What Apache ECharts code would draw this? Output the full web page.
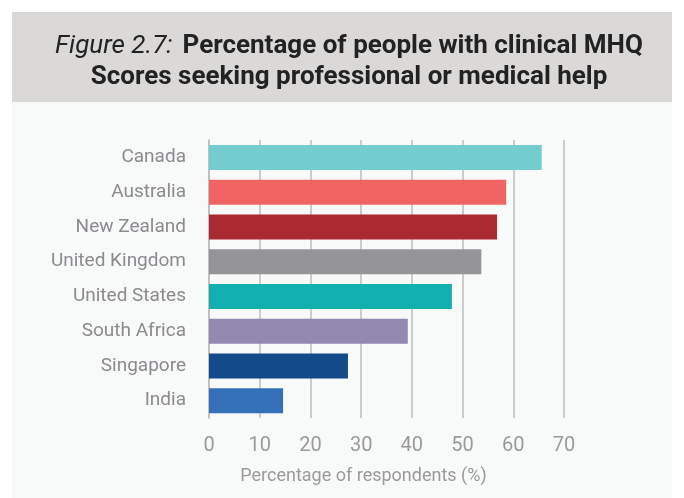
<!DOCTYPE html>
<html>
<head>
<meta charset="utf-8">
<script src="https://cdn.jsdelivr.net/npm/echarts@6/dist/echarts.min.js"></script>
<style>
  html, body { margin: 0; padding: 0; background: #fff; }
  #chart { width: 684px; height: 498px; }
</style>
</head>
<body>
<div id="chart"></div>
<script>
// data
var countries = ["Canada", "Australia", "New Zealand", "United Kingdom", "United States", "South Africa", "Singapore", "India"];
var percentValues = [65.6, 58.6, 56.8, 53.7, 47.9, 39.2, 27.4, 14.6];
var barColors = ["#73cccd", "#f16464", "#ab2a32", "#959599", "#12b0b1", "#9189af", "#134a89", "#3370b8"];
var xTicks = [0, 10, 20, 30, 40, 50, 60, 70];

var chart = echarts.init(document.getElementById("chart"));

var option = {
  backgroundColor: "#ffffff",
  graphic: [
    { type: "rect", z: -10, shape: { x: 12, y: 12, width: 660, height: 90 }, style: { fill: "#dad9d8" } },
    { type: "rect", z: -10, shape: { x: 12, y: 102, width: 660, height: 396 }, style: { fill: "#f8f9f9" } }
  ],
  title: {
    left: 344,
    top: 26,
    textAlign: "center",
    text: "{i|Figure 2.7:}  {b|Percentage of people with clinical MHQ}\n{b|Scores seeking professional or medical help}",
    textStyle: {
      lineHeight: 31,
      rich: {
        i: { fontFamily: "Roboto", fontStyle: "italic", fontWeight: "normal", fontSize: 26, color: "#222", lineHeight: 31 },
        b: { fontFamily: "Roboto", fontWeight: "bold", fontSize: 26, color: "#222", lineHeight: 31 }
      }
    }
  },
  grid: { left: 209, right: 120, top: 140, bottom: 80 },
  xAxis: {
    type: "value",
    min: 0,
    max: 70,
    interval: 10,
    axisLine: { show: false },
    axisTick: { show: false },
    splitLine: { show: true, lineStyle: { color: "#bdbdbd", width: 1.5 } },
    axisLabel: {
      margin: 18,
      fontFamily: "Roboto",
      fontSize: 20,
      color: "#9a9a9a",
      formatter: function (v) { return xTicks.indexOf(v) >= 0 ? String(v) : ""; }
    },
    name: "Percentage of respondents (%)",
    nameLocation: "middle",
    nameGap: 49,
    nameTextStyle: { fontFamily: "Roboto", fontSize: 18, color: "#9a9a9a", padding: [0, 46, 0, 0] }
  },
  yAxis: {
    type: "category",
    inverse: true,
    data: countries,
    axisLine: { show: true, lineStyle: { color: "#bdbdbd", width: 1.5 } },
    axisTick: { show: false },
    axisLabel: {
      margin: 23,
      fontFamily: "Roboto",
      fontSize: 19,
      color: "#8b8b8f"
    }
  },
  series: [
    {
      type: "bar",
      data: percentValues,
      barWidth: 25,
      itemStyle: {
        color: function (p) { return barColors[p.dataIndex]; }
      }
    }
  ]
};

chart.setOption(option);
window.addEventListener("resize", function () { chart.resize(); });
</script>
</body>
</html>
